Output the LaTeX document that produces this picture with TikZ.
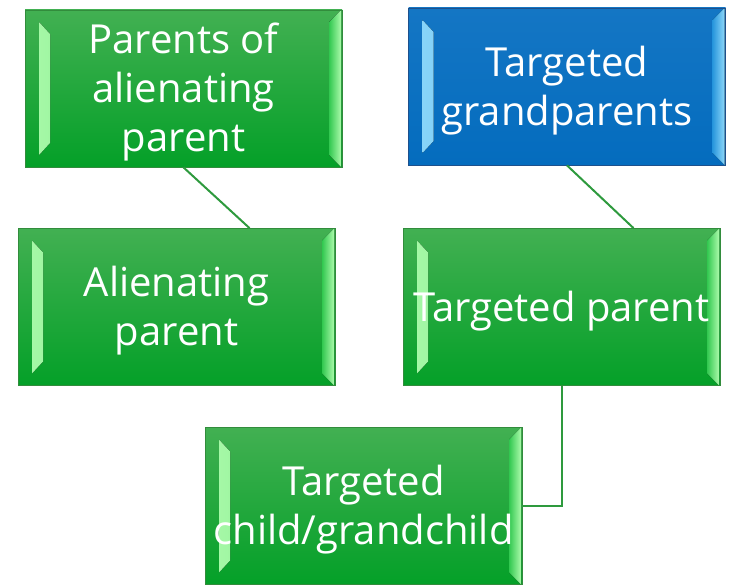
\documentclass[tikz,border=0pt]{standalone}
\usepackage{fontspec}
\setmainfont{Open Sans}
\usepackage{xcolor}

\definecolor{greentop}{RGB}{66,176,82}
\definecolor{greenbottom}{RGB}{4,160,40}
\definecolor{greenedge}{RGB}{50,140,60}
\definecolor{greenlight}{RGB}{170,250,170}
\definecolor{greenmid}{RGB}{50,200,80}
\definecolor{bluetop}{RGB}{20,118,196}
\definecolor{bluebottom}{RGB}{4,108,190}
\definecolor{blueedge}{RGB}{30,80,140}
\definecolor{bluelight}{RGB}{140,215,250}
\definecolor{bluemid}{RGB}{40,150,220}
\definecolor{linkgreen}{RGB}{46,154,62}

\newcommand{\lift}{\rule{0pt}{38pt}}

\tikzset{
	bevel/.style 2 args = {path picture = {
		\fill[left color = #1, right color = #2] ([shift = {(14pt, -12pt)}]path picture bounding box.north west) -- ([shift = {(25pt, -24pt)}]path picture bounding box.north west) -- ([shift = {(25pt, 24pt)}]path picture bounding box.south west) -- ([shift = {(14pt, 12pt)}]path picture bounding box.south west) -- cycle;
		\fill[left color = #2, right color = #1] ([shift = {(-1pt, 0pt)}]path picture bounding box.north east) -- ([shift = {(-13pt, -12pt)}]path picture bounding box.north east) -- ([shift = {(-13pt, 12pt)}]path picture bounding box.south east) -- ([shift = {(-1pt, 0pt)}]path picture bounding box.south east) -- cycle;
	}},
	card/.style = {minimum width = 317pt, minimum height = 157pt, inner sep = 0pt, text = white, align = center, font = \fontsize{40}{49}\selectfont, line width = 0.8pt},
	greenbox/.style = {card, draw = greenedge, top color = greentop, bottom color = greenbottom, bevel = {greenlight}{greenmid}},
	bluebox/.style = {card, draw = blueedge, top color = bluetop, bottom color = bluebottom, bevel = {bluelight}{bluemid}},
	link/.style = {draw = linkgreen, line width = 2pt}
}

\begin{document}
\begin{tikzpicture}[x = 1pt, y = -1pt]
			\useasboundingbox (0, 0) rectangle (731, 586);
			\node[greenbox] (parentsof) at (183.5, 88.5) {\lift Parents of\\alienating\\parent};
			\node[bluebox] (grandparents) at (567, 86.5) {\lift Targeted\\grandparents};
			\node[greenbox] (alienating) at (176.5, 307) {\lift Alienating\\parent};
			\node[greenbox] (targetparent) at (561.5, 307) {\lift Targeted parent};
			\node[greenbox] (targetchild) at (363.5, 506) {\lift Targeted\\child/grandchild};
			\draw[link] (parentsof.south) -- ([xshift = 73pt]alienating.north);
			\draw[link] (grandparents.south) -- ([xshift = 72pt]targetparent.north);
			\draw[link] (targetparent.south) |- (targetchild.east);
			\end{tikzpicture}
\end{document}
